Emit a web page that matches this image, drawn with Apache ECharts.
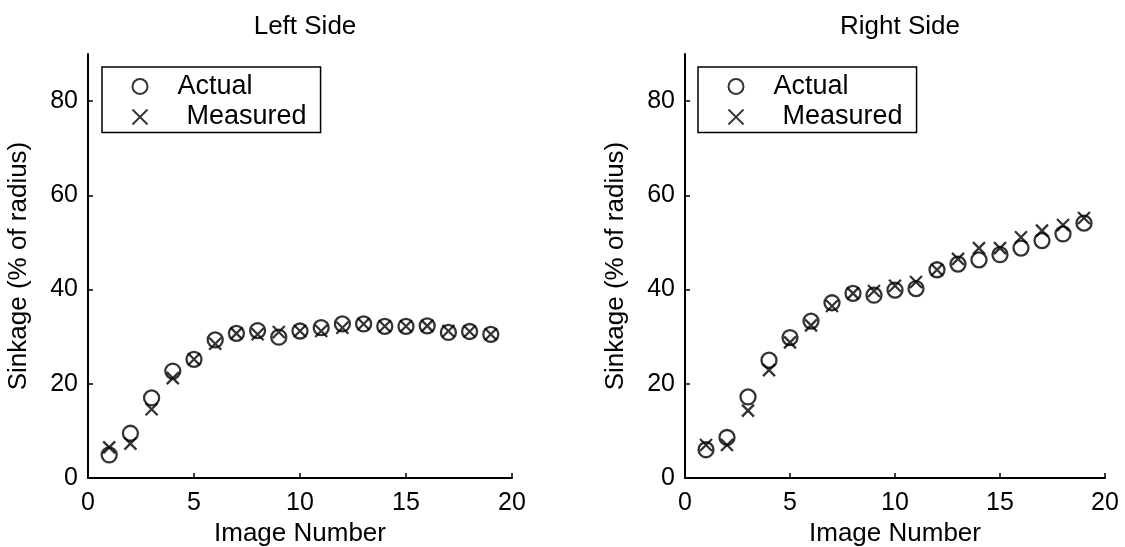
<!DOCTYPE html>
<html>
<head>
<meta charset="utf-8">
<script src="https://cdn.jsdelivr.net/npm/echarts@6/dist/echarts.min.js"></script>
<style>
html,body{margin:0;padding:0;background:#fff;}
#c{width:1125px;height:547px;}
</style>
</head>
<body>
<div id="c"></div>
<script>
const imageNumbers = [1,2,3,4,5,6,7,8,9,10,11,12,13,14,15,16,17,18,19];
const leftActual   = [4.9, 9.5, 17.0, 22.7, 25.2, 29.3, 30.7, 31.3, 29.9, 31.2, 31.9, 32.7, 32.7, 32.2, 32.2, 32.3, 30.9, 31.1, 30.5];
const leftMeasured = [6.5, 7.3, 14.6, 21.2, 25.2, 28.5, 30.7, 30.5, 31.0, 31.2, 31.2, 31.9, 32.7, 32.2, 32.2, 32.3, 31.2, 31.1, 30.5];
const rightActual   = [6.0, 8.6, 17.2, 25.0, 29.8, 33.3, 37.2, 39.2, 38.8, 39.9, 40.2, 44.2, 45.4, 46.3, 47.4, 48.8, 50.4, 51.8, 54.1];
const rightMeasured = [7.0, 7.0, 14.3, 22.9, 28.8, 32.4, 36.5, 39.2, 39.7, 40.8, 41.6, 44.2, 46.5, 48.8, 48.8, 51.1, 52.5, 53.7, 55.2];
const xTicks = [0, 5, 10, 15, 20];
const yTicks = [0, 20, 40, 60, 80];
const titles = ['Left Side', 'Right Side'];
const xName = 'Image Number';
const yName = 'Sinkage (% of radius)';
const seriesNames = ['Actual', 'Measured'];

const FONT = 'Liberation Sans, Arial, Helvetica, sans-serif';
const XPATH = 'path://M0,0L10,10M10,0L0,10';

function pairs(xs, ys){ return xs.map((x,i)=>[x, ys[i]]); }

const grids = [
  {left: 88, top: 54, width: 424, height: 424, outerBoundsMode:'none', containLabel:false},
  {left: 685, top: 54, width: 420, height: 424, outerBoundsMode:'none', containLabel:false}
];

function xAxis(i){
  return {
    type:'value', gridIndex:i, min:0, max:20, interval:5,
    name: xName, nameLocation:'middle', nameGap:42,
    nameTextStyle:{fontFamily:FONT, fontSize:26, color:'#000'},
    axisLine:{show:true, onZero:false, lineStyle:{color:'#000', width:2}},
    axisTick:{show:true, inside:true, length:5, customValues:xTicks, lineStyle:{color:'#000', width:1.5}},
    axisLabel:{fontFamily:FONT, fontSize:25, color:'#000', margin:13, customValues:xTicks},
    splitLine:{show:false}
  };
}
function yAxis(i){
  return {
    type:'value', gridIndex:i, min:0, max:90, interval:20,
    name: yName, nameLocation:'middle', nameGap:56, nameRotate:90,
    nameTextStyle:{fontFamily:FONT, fontSize:26, color:'#000'},
    axisLine:{show:true, onZero:false, lineStyle:{color:'#000', width:2}},
    axisTick:{show:true, inside:true, length:5, customValues:yTicks, lineStyle:{color:'#000', width:1.5}},
    axisLabel:{fontFamily:FONT, fontSize:25, color:'#000', margin:10, customValues:yTicks},
    splitLine:{show:false}
  };
}
function legend(i, left){
  return {
    left: left, top: 67, orient:'vertical',
    itemWidth:15, itemHeight:15, itemGap:3.5,
    padding:[6,14,2,28],
    borderColor:'#000', borderWidth:1.5, backgroundColor:'#fff',
    selectedMode:false,
    data:[
      {name:'Actual', icon:'circle', itemStyle:{color:'none', borderColor:'#000', borderWidth:2}},
      {name:'Measured', icon:XPATH, itemStyle:{color:'none', borderColor:'#000', borderWidth:1.8}}
    ],
    formatter: n => n === 'Actual' ? '{a|Actual}' : '{m|Measured}',
    textStyle:{fontFamily:FONT, fontSize:27, color:'#000', lineHeight:27,
      rich:{a:{fontFamily:FONT, fontSize:27, color:'#000', padding:[0,0,0,25]},
            m:{fontFamily:FONT, fontSize:27, color:'#000', padding:[0,0,0,34]}}}
  };
}
function circleSeries(i, ys){
  return {name:seriesNames[0], type:'scatter', xAxisIndex:i, yAxisIndex:i,
    data:pairs(imageNumbers, ys), symbol:'circle', symbolSize:15,
    itemStyle:{color:'none', borderColor:'#000', borderWidth:2.3}, z:3};
}
function crossSeries(i, ys){
  return {name:seriesNames[1], type:'scatter', xAxisIndex:i, yAxisIndex:i,
    data:pairs(imageNumbers, ys), symbol:XPATH, symbolSize:12,
    itemStyle:{color:'none', borderColor:'#000', borderWidth:2.3}, z:4};
}

const chart = echarts.init(document.getElementById('c'), null, {renderer:'canvas'});
chart.setOption({
  animation:false,
  backgroundColor:'#fff',
  title:[
    {text:titles[0], left:300, top:9, textAlign:'center', textStyle:{fontFamily:FONT, fontSize:26, fontWeight:'normal', color:'#000'}},
    {text:titles[1], left:895, top:9, textAlign:'center', textStyle:{fontFamily:FONT, fontSize:26, fontWeight:'normal', color:'#000'}}
  ],
  grid: grids,
  xAxis:[xAxis(0), xAxis(1)],
  yAxis:[yAxis(0), yAxis(1)],
  legend:[legend(0, 102), legend(1, 698)],
  series:[
    circleSeries(0, leftActual), crossSeries(0, leftMeasured),
    circleSeries(1, rightActual), crossSeries(1, rightMeasured)
  ]
});
</script>
</body>
</html>
